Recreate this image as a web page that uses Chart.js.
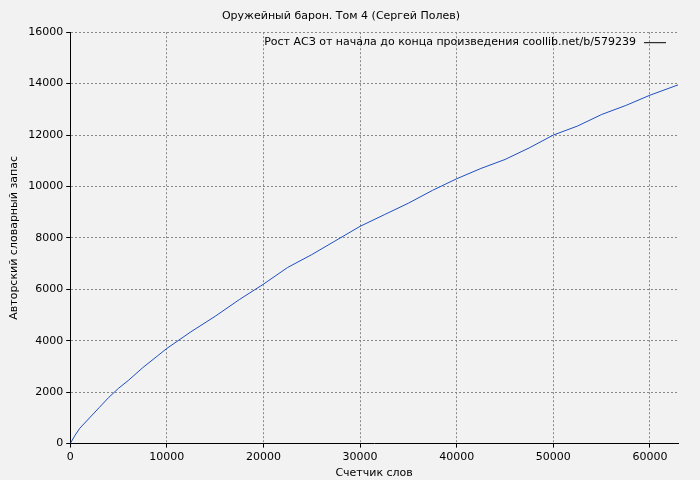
<!DOCTYPE html>
<html>
<head>
<meta charset="utf-8">
<script src="https://cdn.jsdelivr.net/npm/chart.js@4"></script>
<style>
  body { margin: 0; background: #f2f2f2; }
  #wrap { width: 700px; height: 480px; }
</style>
</head>
<body>
<div id="wrap"><canvas id="chart"></canvas></div>
<script>
const words = [0, 500, 1000, 2000, 3000, 4000, 5000, 6000, 7500, 9000, 10000, 12500, 15000, 17500, 20000,
  22500, 25000, 27500, 30000, 32500, 35000, 37500, 40000, 42500, 45000, 47500, 50000, 52500, 55000,
  57500, 60000, 62900];
const vocab = [0, 320, 600, 1000, 1400, 1800, 2150, 2450, 2950, 3400, 3700, 4350, 4950, 5600, 6200,
  6850, 7350, 7900, 8450, 8900, 9350, 9850, 10300, 10700, 11050, 11500, 12000, 12350, 12800,
  13150, 13550, 13950];
const xTicks = [0, 10000, 20000, 30000, 40000, 50000, 60000];
const seriesLabel = 'Рост АСЗ от начала до конца произведения coollib.net/b/579239';
const chartTitle = 'Оружейный барон. Том 4 (Сергей Полев)';

const legendInside = {
  id: 'legendInside',
  afterDraw(chart) {
    const { ctx, chartArea } = chart;
    ctx.save();
    ctx.font = '11px "DejaVu Sans"';
    ctx.fillStyle = '#000';
    ctx.textAlign = 'right';
    ctx.textBaseline = 'middle';
    const y = chartArea.top + 10;
    ctx.fillText(seriesLabel, chartArea.right - 42, y);
    ctx.strokeStyle = '#000';
    ctx.lineWidth = 1;
    ctx.beginPath();
    ctx.moveTo(chartArea.right - 34, y + 0.5);
    ctx.lineTo(chartArea.right - 12, y + 0.5);
    ctx.stroke();
    ctx.restore();
  }
};

const font = { family: 'DejaVu Sans', size: 11 };

new Chart(document.getElementById('chart'), {
  type: 'line',
  data: {
    datasets: [{
      label: seriesLabel,
      data: words.map((w, i) => ({ x: w, y: vocab[i] })),
      borderColor: '#1f4fbf',
      borderWidth: 1,
      pointRadius: 0,
      tension: 0
    }]
  },
  options: {
    responsive: true,
    maintainAspectRatio: false,
    animation: false,
    layout: { padding: { right: 22, left: 4 } },
    plugins: {
      legend: { display: false },
      title: {
        display: true,
        text: chartTitle,
        color: '#000',
        font: { family: 'DejaVu Sans', size: 11, weight: 'normal' },
        padding: { top: 10, bottom: 9 }
      }
    },
    scales: {
      x: {
        type: 'linear',
        min: 0,
        max: 62900,
        afterBuildTicks: (axis) => { axis.ticks = xTicks.map(v => ({ value: v })); },
        grid: { color: '#888', tickColor: '#000', tickLength: 4 },
        border: { color: '#000', dash: [2, 2] },
        ticks: { color: '#000', font, maxRotation: 0, callback: v => String(v) },
        title: { display: true, text: 'Счетчик слов', color: '#000', font, padding: 0 }
      },
      y: {
        min: 0,
        max: 16000,
        grid: { color: '#888', tickColor: '#000', tickLength: 4 },
        border: { color: '#000', dash: [2, 2] },
        ticks: { stepSize: 2000, color: '#000', font, callback: v => String(v) },
        title: { display: true, text: 'Авторский словарный запас', color: '#000', font }
      }
    }
  },
  plugins: [legendInside, {
    id: 'bg',
    beforeDraw(chart) {
      const { ctx, width, height } = chart;
      ctx.save();
      ctx.fillStyle = '#f2f2f2';
      ctx.fillRect(0, 0, width, height);
      ctx.restore();
    }
  }]
});
</script>
</body>
</html>
